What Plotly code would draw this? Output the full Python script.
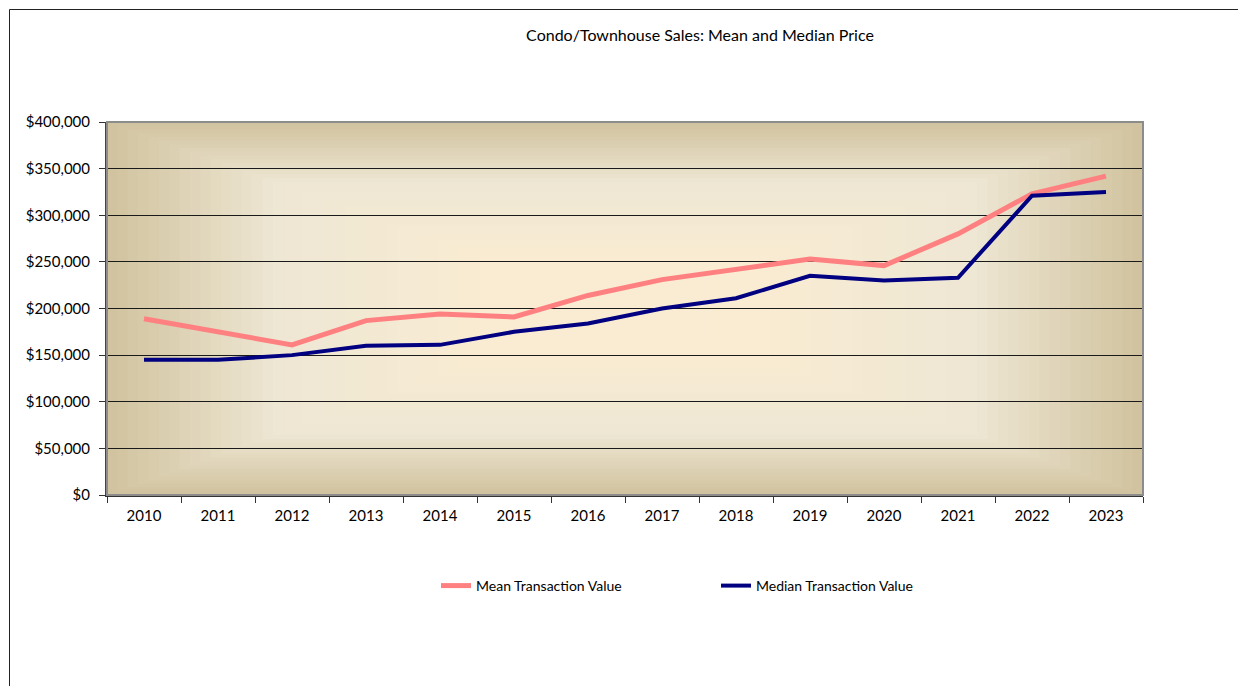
import plotly.graph_objects as go

years = ["2010", "2011", "2012", "2013", "2014", "2015", "2016",
         "2017", "2018", "2019", "2020", "2021", "2022", "2023"]
mean_values = [189000, 175000, 161000, 187000, 194000, 191000, 214000,
               231000, 242000, 253000, 246000, 280000, 323000, 342000]
median_values = [145000, 145000, 150000, 160000, 161000, 175000, 184000,
                 200000, 211000, 235000, 230000, 233000, 321000, 325000]
title_text = "Condo/Townhouse Sales: Mean and Median Price"

OFF = 8                      # default body margin of the html page
W, H = 1246 - 2 * OFF, 694 - 2 * OFF
L, R, T, B = 107, 1143, 122, 495   # target plot area in screen px
FONT = "Lato"

fig = go.Figure()
fig.add_trace(go.Scatter(x=years, y=mean_values, mode="lines",
                         name="Mean Transaction Value",
                         line=dict(color="#FF8080", width=5)))
fig.add_trace(go.Scatter(x=years, y=median_values, mode="lines",
                         name="Median Transaction Value",
                         line=dict(color="#000080", width=4)))

def lerp(a, b, f):
    return tuple(int(round(a[i] + (b[i] - a[i]) * f)) for i in range(3))

edge = (209, 195, 159)
mid = (238, 231, 212)
center = (250, 236, 210)
N = 50
shapes = []
for i in range(N):
    t = 0.5 * i / N
    if t < 0.16:
        c = lerp(edge, mid, t / 0.16)
    else:
        c = lerp(mid, center, min(1, (t - 0.16) / 0.22))
    shapes.append(dict(type="rect", xref="x domain", yref="y domain",
                       x0=t, x1=1 - t, y0=t, y1=1 - t, layer="below",
                       line=dict(width=0), fillcolor="rgb(%d,%d,%d)" % c))
shapes.append(dict(type="rect", xref="x domain", yref="y domain",
                   x0=0, x1=1, y0=0, y1=1, layer="above",
                   line=dict(color="#8c8c8c", width=2)))
pw, ph = R - L, B - T
shapes.append(dict(type="rect", xref="paper", yref="paper",
                   x0=(9.5 - L) / pw, x1=(1260 - L) / pw,
                   y0=(B - 710) / ph, y1=(B - 9.5) / ph,
                   layer="below", line=dict(color="#222222", width=1)))

fig.update_layout(
    width=W, height=H,
    margin=dict(l=L - OFF, r=W + OFF - R, t=T - OFF, b=H + OFF - B, pad=0),
    paper_bgcolor="white", plot_bgcolor="rgba(0,0,0,0)",
    font=dict(family=FONT, size=15, color="#000000"),
    title=dict(text=title_text, x=(700 - OFF) / W, xanchor="center",
               y=1 - (35 - OFF) / H, yanchor="middle",
               xref="container", yref="container",
               font=dict(family=FONT, size=16, color="#000000")),
    shapes=shapes,
    showlegend=True,
    legend=dict(orientation="h", x=(436 - L) / pw, xanchor="left",
                y=(B - 586) / ph, yanchor="middle",
                font=dict(family=FONT, size=14, color="#000000"),
                entrywidth=235, entrywidthmode="pixels",
                bgcolor="rgba(0,0,0,0)"),
)
fig.update_xaxes(type="category", range=[-0.5, len(years) - 0.5],
                 tickson="boundaries", ticks="outside",
                 ticklen=6, tickcolor="#333333", showline=True,
                 linecolor="#333333", linewidth=2, showgrid=False,
                 tickfont=dict(family=FONT, size=15), ticklabelstandoff=6)
fig.update_yaxes(range=[0, 400000], dtick=50000, tickprefix="$",
                 tickformat=",", ticks="outside", ticklen=6,
                 tickcolor="#333333", showline=True, linecolor="#444444",
                 linewidth=2, showgrid=True, gridcolor="#1a1a1a",
                 gridwidth=1, zeroline=False,
                 tickfont=dict(family=FONT, size=15), ticklabelstandoff=6)

fig.write_html("out.html")
